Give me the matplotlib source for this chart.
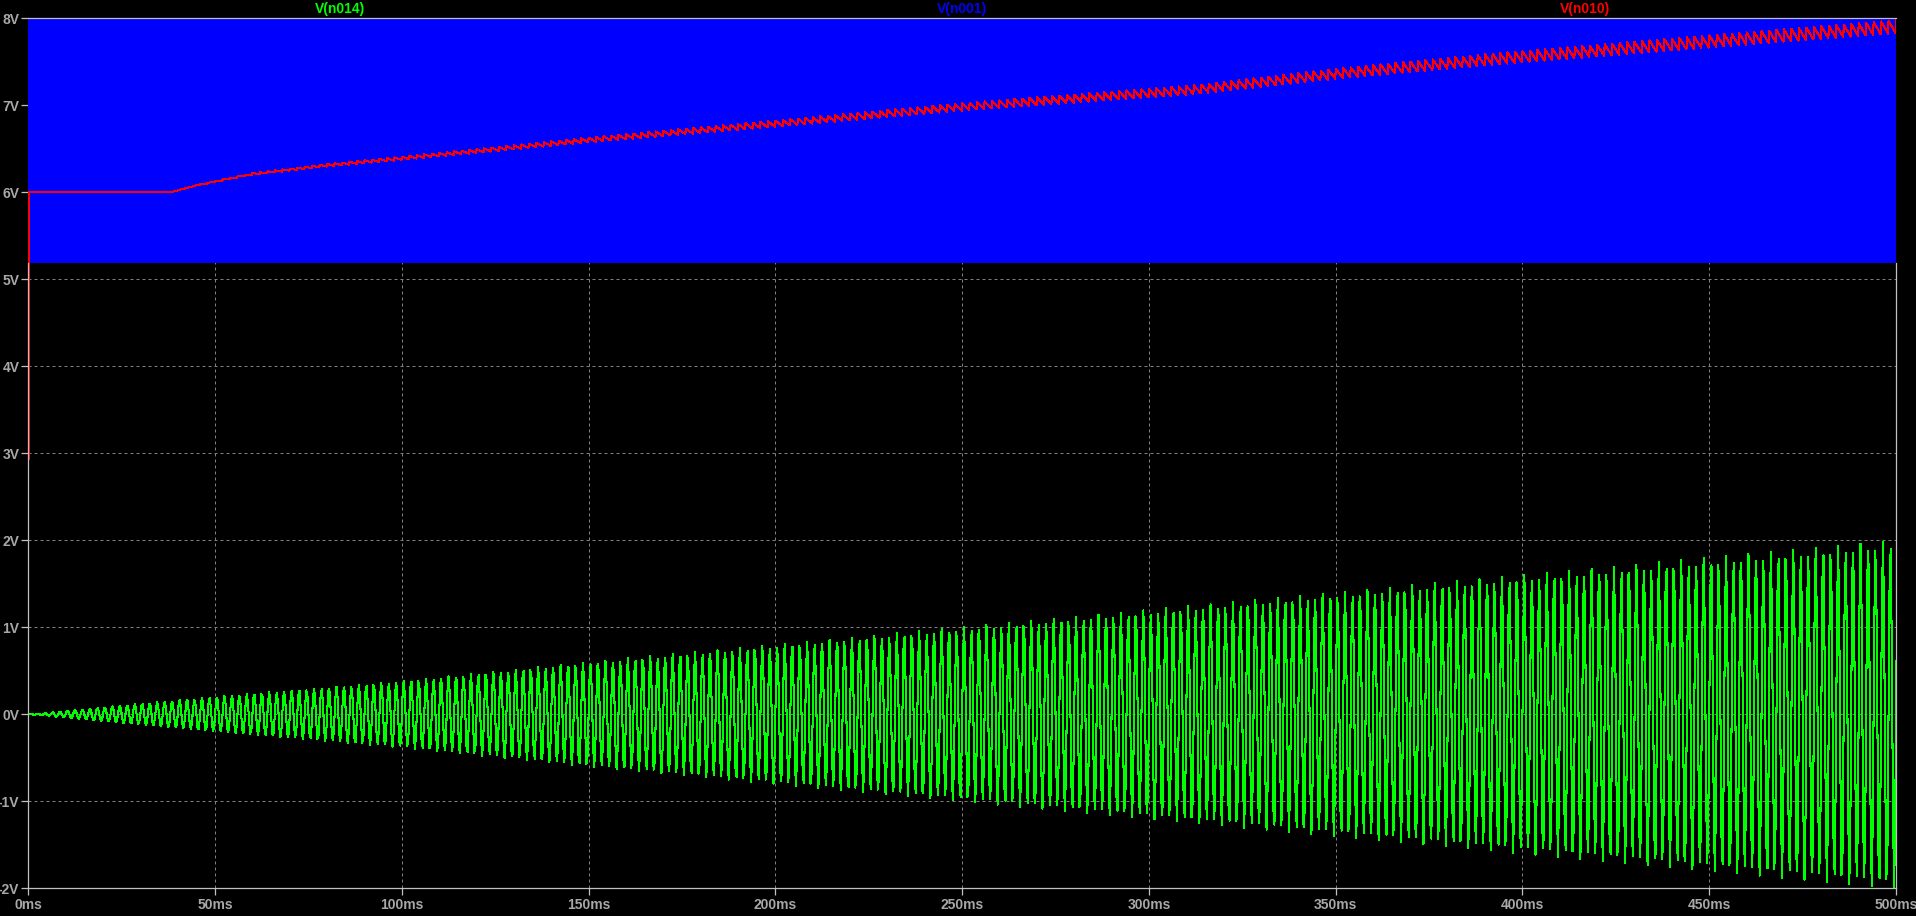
import numpy as np
import matplotlib.pyplot as plt

# time axis (ms) and tick labels
x_ticks = [0, 50, 100, 150, 200, 250, 300, 350, 400, 450, 500]
x_labels = ['0ms', '50ms', '100ms', '150ms', '200ms', '250ms', '300ms',
            '350ms', '400ms', '450ms', '500ms']
y_ticks = [-2, -1, 0, 1, 2, 3, 4, 5, 6, 7, 8]
y_labels = ['-2V', '-1V', '0V', '1V', '2V', '3V', '4V', '5V', '6V', '7V', '8V']

# V(n014): 500 Hz oscillation, envelope
n014_freq = 0.5          # cycles per ms
n014_step = 0.3          # ms between samples
n014_env_t = [0, 5, 10, 25, 50, 100, 150, 200, 250, 300, 350, 400, 450, 500]
n014_env_v = [0, 0.015, 0.04, 0.1, 0.2, 0.38, 0.6, 0.8, 1.0, 1.2, 1.4, 1.6, 1.8, 2.0]

# V(n001): switching node, fills the band between these levels
n001_t = [0, 500]
n001_low = [5.19, 5.19]
n001_high = [8.0, 8.0]

# V(n010): slow rise with a sawtooth ripple at the same 500 Hz
n010_t = [0, 0.02, 38, 45, 60, 80, 100, 150, 206, 250, 313, 350, 393, 450, 500]
n010_v = [0, 6, 6, 6.08, 6.21, 6.31, 6.39, 6.6, 6.81, 6.98, 7.18, 7.36, 7.53, 7.73, 7.9]
n010_rip_t = [0, 38, 60, 100, 206, 313, 393, 500]
n010_rip_pp = [0, 0, 0.02, 0.04, 0.077, 0.107, 0.134, 0.155]

GREEN = '#00ff00'
BLUE = '#0000ff'
RED = '#ff0000'
AXIS = '#c0c0c0'
LABEL = '#a8a8a8'
GRID = '#808080'

W, H = 1916, 916
fig = plt.figure(figsize=(W / 100, H / 100), dpi=100, facecolor='black')
ax = fig.add_axes([28.3 / W, (H - 888.3) / H, (1896 - 28.3) / W, (888.3 - 18.3) / H])
ax.set_facecolor('black')

t = np.arange(0, 500 + n014_step, n014_step)
env = np.interp(t, n014_env_t, n014_env_v)
n014 = env * np.sin(2 * np.pi * n014_freq * t)

t2 = np.arange(0, 500.001, 0.1)
base = np.interp(t2, n010_t, n010_v)
pp = np.interp(t2, n010_rip_t, n010_rip_pp)
phase = (t2 * n014_freq) % 1.0
n010 = base + pp * (0.5 - phase)
n010[0] = 0

ax.fill_between(n001_t, n001_low, n001_high, color=BLUE, lw=0, zorder=2)
ax.plot(t, n014, color=GREEN, lw=0.75, antialiased=False, zorder=3)
ax.plot(t2, n010, color=RED, lw=0.75, antialiased=False, zorder=4)

ax.set_xlim(0, 500)
ax.set_ylim(-2, 8)
ax.set_xticks(x_ticks)
ax.set_xticklabels(x_labels)
ax.set_yticks(y_ticks)
ax.set_yticklabels(y_labels)
ax.grid(True, color=GRID, lw=0.72, linestyle=(0, (3, 3)), zorder=1)
ax.set_axisbelow(True)

for lab in ax.get_xticklabels() + ax.get_yticklabels():
    lab.set_fontfamily('Liberation Sans')
    lab.set_fontweight('bold')
    lab.set_fontsize(10)
    lab.set_color(LABEL)
ax.tick_params(axis='both', direction='out', length=5, width=0.9, color=AXIS)
ax.tick_params(axis='y', pad=1.5)
ax.tick_params(axis='x', pad=2)

for name, sp in ax.spines.items():
    sp.set_color(AXIS)
    sp.set_linewidth(0.9)
    sp.set_zorder(5)
ax.spines['left'].set_bounds(-2, 5.19)
ax.spines['right'].set_bounds(-2, 5.19)

# trace names across the top
for xf, txt, col in [(1 / 6, 'V(n014)', GREEN), (0.5, 'V(n001)', BLUE), (5 / 6, 'V(n010)', RED)]:
    ax.text(xf, 1.0 + 9.3 / 870, txt, transform=ax.transAxes, ha='center', va='center',
            color=col, fontsize=10, fontweight='bold', family='Liberation Sans')

fig.savefig('out.png', dpi=100, facecolor='black')
